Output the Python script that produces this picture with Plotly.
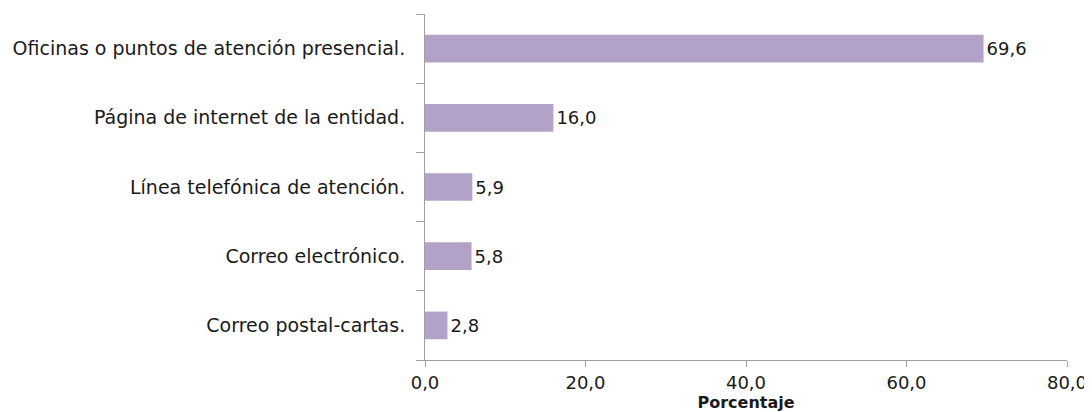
import plotly.graph_objects as go

categories = [
    "Correo postal-cartas.",
    "Correo electrónico.",
    "Línea telefónica de atención.",
    "Página de internet de la entidad.",
    "Oficinas o puntos de atención presencial.",
]
values = [2.8, 5.8, 5.9, 16.0, 69.6]
x_ticks = [0, 20, 40, 60, 80]

FONT = "DejaVu Sans, Liberation Sans, Arial, sans-serif"

fig = go.Figure(
    go.Bar(
        x=values,
        y=categories,
        orientation="h",
        marker=dict(color="#B3A2C8", line=dict(width=0)),
        width=0.4,
        texttemplate="%{x:.1f}",
        textposition="outside",
        textfont=dict(size=18, color="#1a1a1a", family=FONT),
        cliponaxis=False,
    )
)

fig.update_layout(
    width=1092,
    height=412,
    margin=dict(l=417, r=33, t=6, b=60),
    paper_bgcolor="white",
    plot_bgcolor="white",
    separators=",.",
    font=dict(family=FONT, size=18, color="#1a1a1a"),
    showlegend=False,
)
fig.update_xaxes(
    range=[0, 80],
    tickvals=x_ticks,
    tickformat=".1f",
    showgrid=False,
    zeroline=False,
    showline=True,
    linecolor="#A0A0A0",
    linewidth=1,
    ticks="outside",
    ticklen=6,
    tickcolor="#A0A0A0",
    tickfont=dict(size=18),
    automargin=False,
    title=dict(text="<b>Porcentaje</b>", font=dict(size=16), standoff=1),
)
fig.update_yaxes(
    showgrid=False,
    showline=True,
    linecolor="#A0A0A0",
    linewidth=1,
    ticks="outside",
    tickson="boundaries",
    ticklen=8,
    tickcolor="#A0A0A0",
    tickfont=dict(size=19),
    ticklabelstandoff=15,
    automargin=False,
)

fig.write_html("out.html")
